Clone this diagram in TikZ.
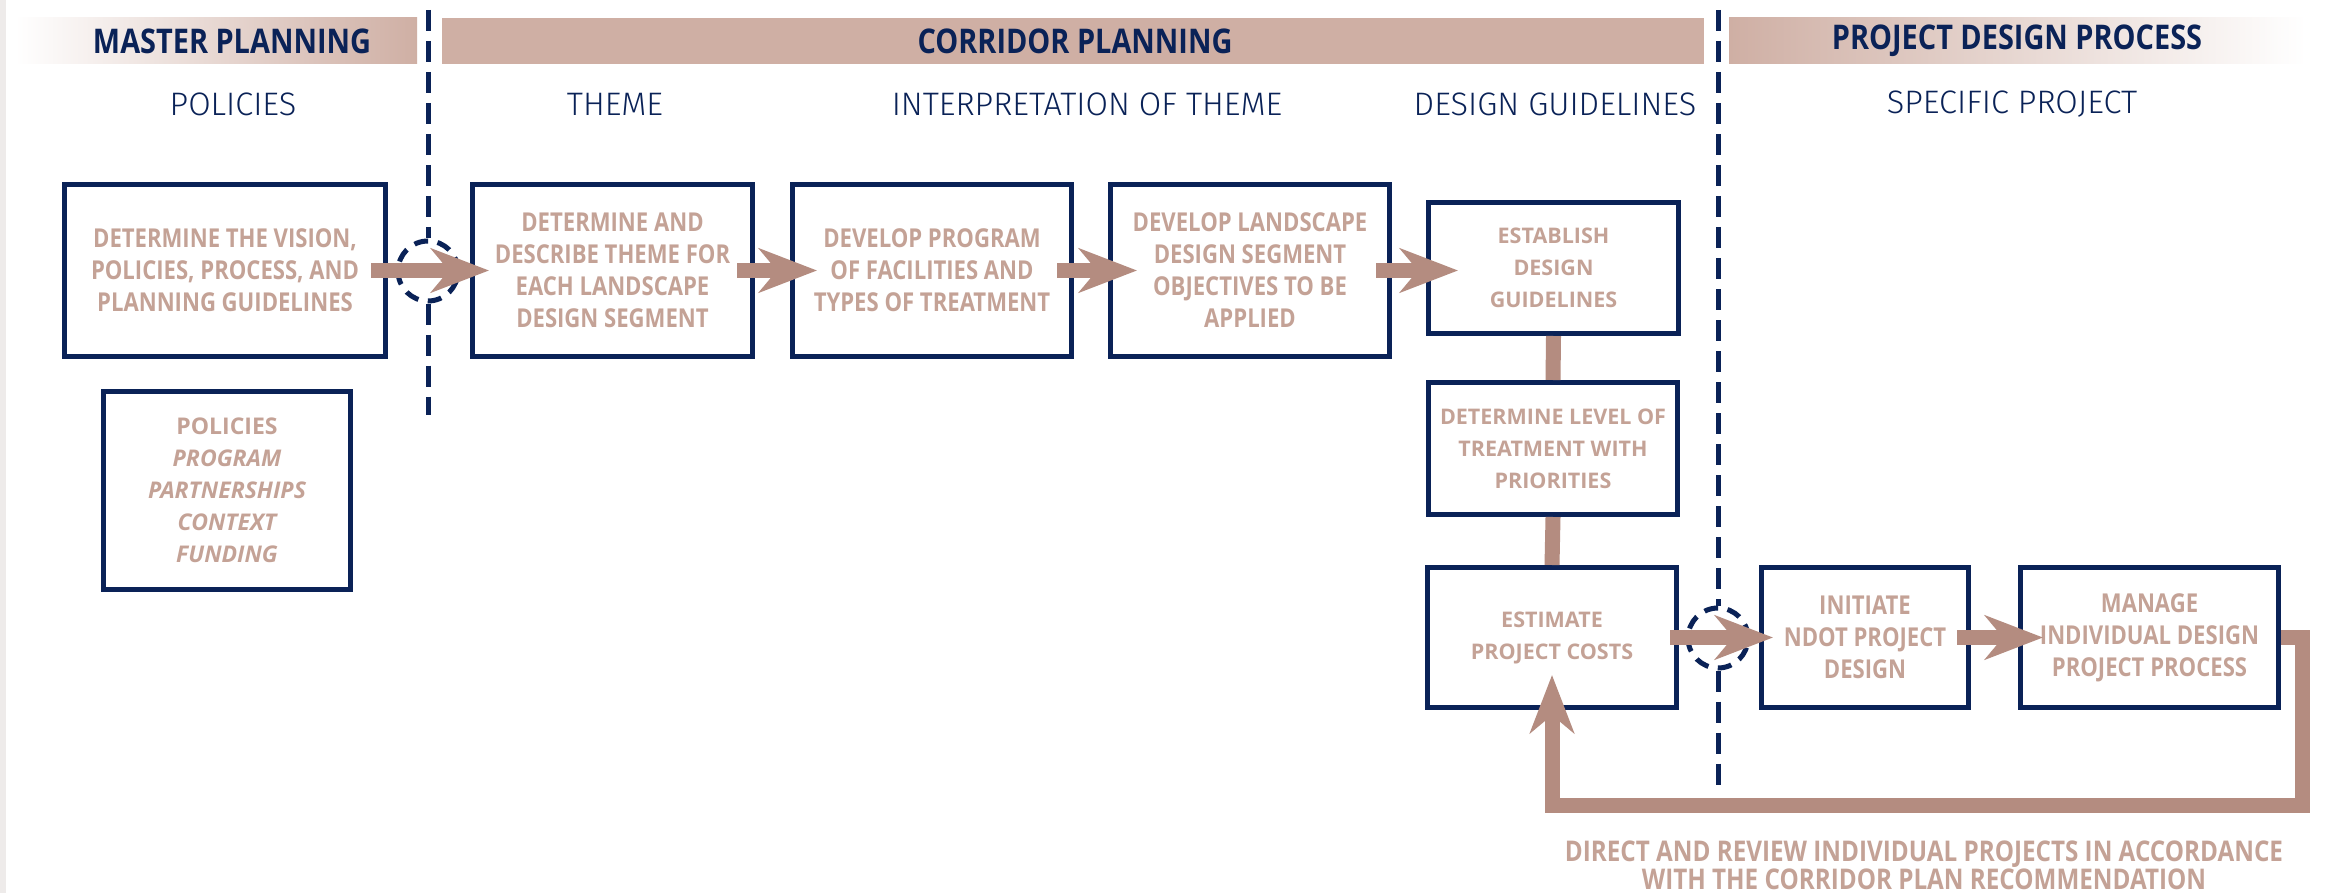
\documentclass[tikz,border=0pt]{standalone}
\usepackage{fontspec}
\setmainfont{Open Sans}
\newfontfamily\condfont{Open Sans}[FakeStretch=0.85]
\newfontfamily\thinfont{Fira Sans Light}
\usetikzlibrary{arrows.meta,calc}

\definecolor{navy}{RGB}{10,34,87}
\definecolor{rosetext}{RGB}{196,162,150}
\definecolor{roseflow}{RGB}{180,140,128}
\definecolor{rosebar}{RGB}{207,175,164}
\definecolor{edgegray}{RGB}{238,235,234}

\begin{document}
\begin{tikzpicture}[x=1pt,y=-1pt,
  box/.style={draw=navy, line width=5pt, fill=white, inner sep=0pt,
    align=center, text=rosetext},
  condtext/.style={font=\condfont\bfseries\fontsize{26}{32}\selectfont},
  widetext/.style={font=\bfseries\fontsize{21.5}{32}\selectfont},
  listtext/.style={font=\bfseries\fontsize{23}{32}\selectfont},
  headtext/.style={font=\condfont\bfseries\fontsize{34}{38}\selectfont, text=navy},
  subtext/.style={font=\thinfont\fontsize{32.5}{36}\selectfont, text=navy},
  captext/.style={font=\condfont\bfseries\fontsize{28.5}{28}\selectfont,
    text=rosetext, align=center},
  flow/.style={draw=roseflow, line width=15pt,
    -{Stealth[length=58pt, width=44pt, inset=18pt]}},
  link/.style={draw=roseflow, line width=15pt},
  loopline/.style={draw=roseflow, line width=15pt, line join=miter,
    -{Stealth[length=58pt, width=44pt, inset=18pt]}},
  divider/.style={draw=navy, line width=5pt, dash pattern=on 21pt off 10pt},
  dcirc/.style={circle, draw=navy, line width=5pt, minimum size=60pt,
    inner sep=0pt, dash pattern=on 14pt off 9.5pt}
]
\useasboundingbox (0,0) rectangle (2325,893);
\fill[white] (0,0) rectangle (2325,893);
\fill[edgegray] (0,0) rectangle (6,893);

% phase header bars
\shade[left color=white, right color=rosebar] (15,18) rectangle (417,64);
\fill[rosebar] (442,18) rectangle (1704,64);
\shade[left color=rosebar, right color=white] (1729,18) rectangle (2306,64);

\node[headtext] (hMaster) at (232,41) {MASTER PLANNING};
\node[headtext] (hCorridor) at (1075,41) {CORRIDOR PLANNING};
\node[headtext] (hProject) at (2017,41) {PROJECT DESIGN PROCESS};

% column labels
\node[subtext] (sPol) at (233,104) {POLICIES};
\node[subtext] (sThe) at (615,104) {THEME};
\node[subtext] (sInt) at (1087,104) {INTERPRETATION OF THEME};
\node[subtext] (sDes) at (1555,104) {DESIGN GUIDELINES};
\node[subtext] (sSpe) at (2012,104) {SPECIFIC PROJECT};

% phase dividers with crossing markers
\node[dcirc] (c1) at (428,271) {};
\node[dcirc] (c2) at (1718,638) {};
\coordinate (d1top) at (428,10);
\coordinate (d1bot) at (428,415);
\coordinate (d2top) at (1718,10);
\coordinate (d2bot) at (1718,785);
\draw[divider] (d1top) -- (c1.north);
\draw[divider] (c1.south) -- (d1bot);
\draw[divider] (d2top) -- (c2.north);
\draw[divider] (c2.south) -- (d2bot);

% process boxes
\node[box, condtext, minimum width=321pt, minimum height=172pt] (b1) at (225,270.5)
  {DETERMINE THE VISION,\\POLICIES, PROCESS, AND\\PLANNING GUIDELINES};
\node[box, listtext, minimum width=247pt, minimum height=198pt] (b1b) at (227,490.5)
  {POLICIES\\{\itshape PROGRAM}\\{\itshape PARTNERSHIPS}\\{\itshape CONTEXT}\\{\itshape FUNDING}};
\node[box, condtext, minimum width=280pt, minimum height=172pt] (b2) at (612.5,270.5)
  {DETERMINE AND\\DESCRIBE THEME FOR\\EACH LANDSCAPE\\DESIGN SEGMENT};
\node[box, condtext, minimum width=279pt, minimum height=172pt] (b3) at (932,270.5)
  {DEVELOP PROGRAM\\OF FACILITIES AND\\TYPES OF TREATMENT};
\node[box, condtext, minimum width=279pt, minimum height=172pt] (b4) at (1250,270.5)
  {DEVELOP LANDSCAPE\\DESIGN SEGMENT\\OBJECTIVES TO BE\\APPLIED};
\node[box, widetext, minimum width=250pt, minimum height=131pt] (b5) at (1553.5,268)
  {ESTABLISH\\DESIGN\\GUIDELINES};
\node[box, widetext, minimum width=249pt, minimum height=132pt] (b6) at (1553,448.5)
  {DETERMINE LEVEL OF\\TREATMENT WITH\\PRIORITIES};
\node[box, widetext, minimum width=249pt, minimum height=140pt] (b7) at (1552,637.5)
  {ESTIMATE\\PROJECT COSTS};
\node[box, condtext, minimum width=207pt, minimum height=140pt] (b8) at (1865,637.5)
  {INITIATE\\NDOT PROJECT\\DESIGN};
\node[box, condtext, minimum width=258pt, minimum height=140pt] (b9) at (2149.5,637.5)
  {MANAGE\\INDIVIDUAL DESIGN\\PROJECT PROCESS};

% links in the design guideline column
\draw[link] (b5.south) -- (b6.north);
\draw[link] (b6.south) -- (b7.north);

% process flow
\draw[flow] ([xshift=-17pt]b1.east) -- ([xshift=19pt]b2.west);
\draw[flow] ([xshift=-18pt]b2.east) -- ([xshift=27pt]b3.west);
\draw[flow] ([xshift=-17pt]b3.east) -- ([xshift=29pt]b4.west);
\draw[flow] ([xshift=-16pt]b4.east) -- ($(b5.west |- b4.east)+(32,0)$);
\draw[flow] ([xshift=-9pt]b7.east) -- ([xshift=14pt]b8.west);
\draw[flow] ([xshift=-14pt]b8.east) -- ([xshift=25pt]b9.west);

% feedback loop
\coordinate (loopR) at (2302.5,805);
\draw[loopline] (b9.east) -| (loopR) -| ([yshift=35pt]b7.south);

\node[captext] (cap) at (1924,865)
  {DIRECT AND REVIEW INDIVIDUAL PROJECTS IN ACCORDANCE\\WITH THE CORRIDOR PLAN RECOMMENDATION};
\end{tikzpicture}
\end{document}
